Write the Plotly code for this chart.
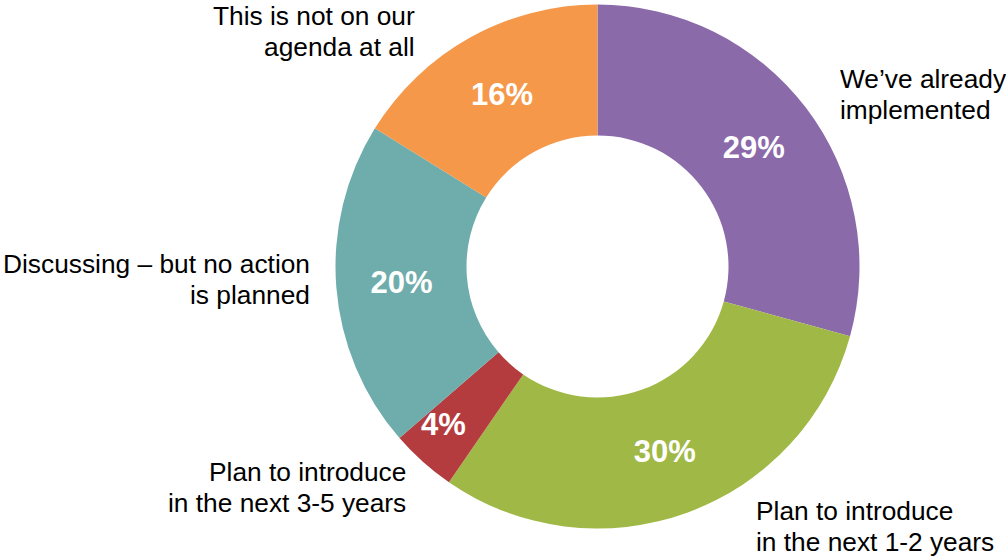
import plotly.graph_objects as go

# ---- data ----
categories = [
    "We’ve already implemented",
    "Plan to introduce in the next 1-2 years",
    "Plan to introduce in the next 3-5 years",
    "Discussing – but no action is planned",
    "This is not on our agenda at all",
]
values = [29, 30, 4, 20, 16]
label_lines = [
    ["We’ve already", "implemented"],
    ["Plan to introduce", "in the next 1-2 years"],
    ["Plan to introduce", "in the next 3-5 years"],
    ["Discussing – but no action", "is planned"],
    ["This is not on our", "agenda at all"],
]
colors = ["#8B6AAA", "#A0B846", "#B43C3E", "#6FADAC", "#F6984A"]

# ---- layout constants (pixels) ----
W, H = 1006, 558
cx, cy, R = 597.5, 266.5, 262
HOLE = 0.5
# label placement: (x, anchor, first baseline)
label_pos = [
    (838, "left", 88),
    (754, "left", 520),
    (408, "right", 481),
    (312, "right", 273),
    (417, "right", 25),
]
# position of in-slice labels for slices too narrow for plotly's inside text
small_pct_pos = {2: (443, 424)}
LINE_GAP = 31
FS_LABEL = 26.3
FS_PCT = 31
FONT = "Liberation Sans, Arial, sans-serif"

texttemplate = ["" if i in small_pct_pos else "%{value}%" for i in range(len(values))]

fig = go.Figure(
    go.Pie(
        labels=categories,
        values=values,
        hole=HOLE,
        sort=False,
        direction="clockwise",
        rotation=0,
        marker=dict(colors=colors, line=dict(width=0)),
        texttemplate=texttemplate,
        textposition="inside",
        insidetextorientation="horizontal",
        textfont=dict(family=FONT, size=FS_PCT, color="white", weight="bold"),
        hoverinfo="label+value",
        showlegend=False,
        domain=dict(x=[(cx - R) / W, (cx + R) / W], y=[1 - (cy + R) / H, 1 - (cy - R) / H]),
    )
)

annotations = []
for lines, (x, anc, b1) in zip(label_lines, label_pos):
    for i, line in enumerate(lines):
        yb = b1 + i * LINE_GAP
        annotations.append(dict(
            x=x / W, y=1 - (yb - 0.35 * FS_LABEL) / H, xref="paper", yref="paper",
            text=line, showarrow=False, xanchor=anc, yanchor="middle",
            font=dict(family=FONT, size=FS_LABEL, color="black"),
        ))

for idx, (px, py) in small_pct_pos.items():
    annotations.append(dict(
        x=px / W, y=1 - py / H, xref="paper", yref="paper",
        text=f"{values[idx]}%", showarrow=False, xanchor="center", yanchor="middle",
        font=dict(family=FONT, size=FS_PCT, color="white", weight="bold"),
    ))

fig.update_layout(
    width=W, height=H,
    margin=dict(l=0, r=0, t=0, b=0),
    paper_bgcolor="white", plot_bgcolor="white",
    annotations=annotations,
)

fig.write_html(
    "out.html",
    config={"displayModeBar": False},
    post_script="document.body.style.margin='0';document.body.style.overflow='hidden';",
)
